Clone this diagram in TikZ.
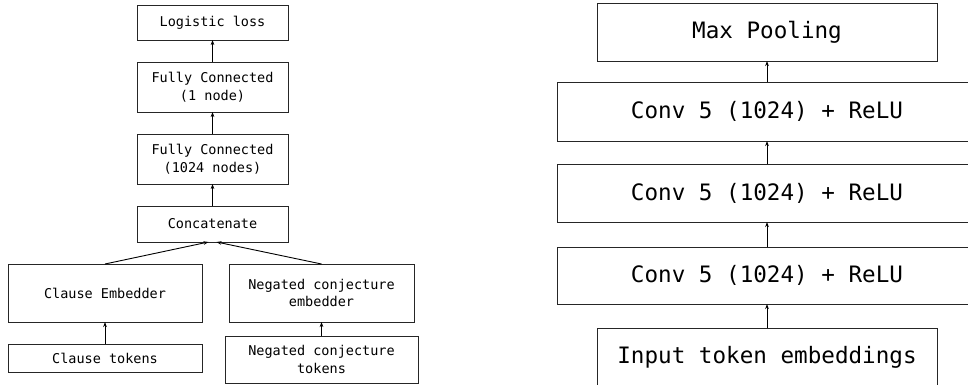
\documentclass[tikz,border=0pt]{standalone}
\usepackage{fontspec}
\newfontfamily\monofam{DejaVu Sans Mono}
\usetikzlibrary{arrows.meta,calc}
\begin{document}
\begin{tikzpicture}[x=1pt,y=-1pt,
  box/.style={draw=black!85,line width=0.9pt,inner sep=0pt,outer sep=0pt,align=center},
  lbox/.style={box,font=\monofam\fontsize{13.5}{17.5}\selectfont},
  rbox/.style={box,font=\monofam\fontsize{22.6}{27}\selectfont},
  arr/.style={draw=black,line width=0.9pt,-{Stealth[length=5pt,width=3.6pt]}}]
\useasboundingbox (0,0) rectangle (968,385);
\clip (0,0) rectangle (968,385);
% left diagram
\node[lbox,minimum width=151pt,minimum height=35pt] (ll) at (212.5,22.5) {Logistic loss};
\node[lbox,minimum width=151pt,minimum height=50pt] (fc1) at (212.5,87) {Fully Connected\\(1 node)};
\node[lbox,minimum width=151pt,minimum height=50pt] (fc2) at (212.5,159) {Fully Connected\\(1024 nodes)};
\node[lbox,minimum width=151pt,minimum height=36pt] (cat) at (212.5,224) {Concatenate};
\node[lbox,minimum width=194pt,minimum height=58pt] (ce) at (105,293) {Clause Embedder};
\node[lbox,minimum width=185pt,minimum height=58pt] (ne) at (321.5,293) {Negated conjecture\\embedder};
\node[lbox,minimum width=194pt,minimum height=28pt] (ct) at (105,358) {Clause tokens};
\node[lbox,minimum width=193pt,minimum height=47pt] (nt) at (321.5,359.5) {Negated conjecture\\tokens};
\draw[arr] (fc1.north) -- (ll.south);
\draw[arr] (fc2.north) -- (fc1.south);
\draw[arr] (cat.north) -- (fc2.south);
\draw[arr] (ce.north) -- ($(cat.south)+(-4,0)$);
\draw[arr] (ne.north) -- ($(cat.south)+(4,0)$);
\draw[arr] (ct.north) -- (ce.south);
\draw[arr] (nt.north) -- (ne.south);
% right diagram
\node[rbox,minimum width=340pt,minimum height=58pt] (mp) at (767,32) {Max Pooling};
\node[rbox,minimum width=420pt,minimum height=59pt] (c1) at (767,111.5) {Conv 5 (1024) + ReLU};
\node[rbox,minimum width=420pt,minimum height=58pt] (c2) at (767,193) {Conv 5 (1024) + ReLU};
\node[rbox,minimum width=420pt,minimum height=57pt] (c3) at (767,275.5) {Conv 5 (1024) + ReLU};
\node[rbox,minimum width=340pt,minimum height=58pt] (in) at (767,357) {Input token embeddings};
\draw[arr] (c1.north) -- (mp.south);
\draw[arr] (c2.north) -- (c1.south);
\draw[arr] (c3.north) -- (c2.south);
\draw[arr] (in.north) -- (c3.south);
\end{tikzpicture}
\end{document}
